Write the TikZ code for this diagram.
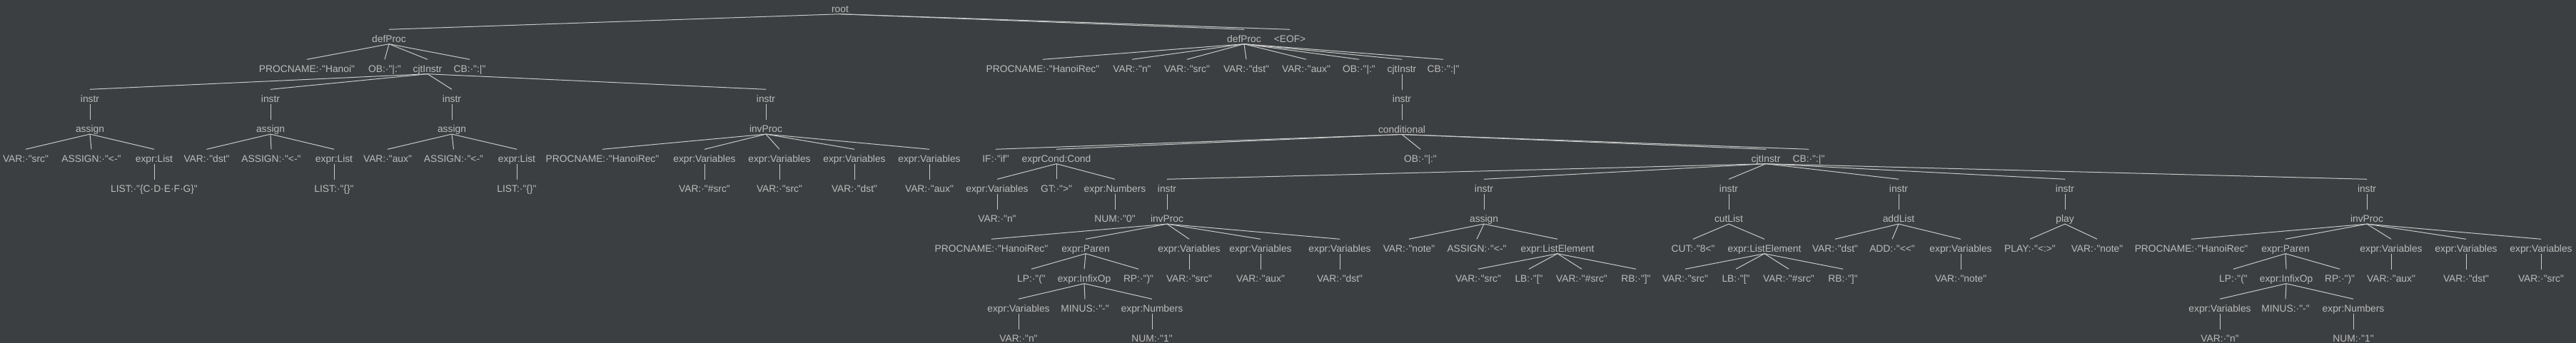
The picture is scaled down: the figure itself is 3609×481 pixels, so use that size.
\documentclass[tikz,border=0pt]{standalone}
\usepackage{fontspec}
\newfontfamily\treefont{Liberation Sans}
\usetikzlibrary{positioning}
\definecolor{bgcol}{HTML}{3C3F41}
\definecolor{txtcol}{HTML}{BBBBBB}
\definecolor{linkcol}{HTML}{C8C8C8}
\tikzset{
  tok/.style={text=txtcol,inner sep=0pt,text height=18pt,text depth=2pt,
    font={\treefont\fontsize{13.8pt}{16pt}\selectfont}},
  link/.style={draw=linkcol,line width=1pt}
}

\begin{document}
\begin{tikzpicture}[x=1pt,y=-1pt,node distance=22pt]
		\fill[bgcol] (0,0) rectangle (3609,481);
		\useasboundingbox (0,0) rectangle (3609,481);

		\node[tok] (root) at (1177,9.5) {root};
		\node[tok] (def1) at (545,51.5) {defProc};
		\node[tok] (def2) at (1743,51.5) {defProc};
		\node[tok] (eof) at (1807,51.5) {<EOF>};

		% first defProc
		\node[tok] (pn1) at (430,93.5) {PROCNAME:·"Hanoi"};
		\node[tok] (ob1) at (539,93.5) {OB:·"|:"};
		\node[tok] (cj1) at (599,93.5) {cjtInstr};
		\node[tok] (cb1) at (658,93.5) {CB:·":|"};

		\node[tok] (in1) at (126,135.5) {instr};
		\node[tok] (in2) at (379,135.5) {instr};
		\node[tok] (in3) at (633,135.5) {instr};
		\node[tok] (in4) at (1073,135.5) {instr};
		\node[tok,below=of in1] (as1) {assign};
		\node[tok,below=of in2] (as2) {assign};
		\node[tok,below=of in3] (as3) {assign};
		\node[tok,below=of in4] (inv1) {invProc};

		\node[tok] (v1) at (36,219.5) {VAR:·"src"};
		\node[tok] (ag1) at (128,219.5) {ASSIGN:·"<-"};
		\node[tok] (el1) at (216,219.5) {expr:List};
		\node[tok,below=of el1] (ls1) {LIST:·"\{C·D·E·F·G\}"};

		\node[tok] (v2) at (289.5,219.5) {VAR:·"dst"};
		\node[tok] (ag2) at (380,219.5) {ASSIGN:·"<-"};
		\node[tok] (el2) at (468,219.5) {expr:List};
		\node[tok,below=of el2] (ls2) {LIST:·"\{\}"};

		\node[tok] (v3) at (543,219.5) {VAR:·"aux"};
		\node[tok] (ag3) at (635.5,219.5) {ASSIGN:·"<-"};
		\node[tok] (el3) at (724,219.5) {expr:List};
		\node[tok,below=of el3] (ls3) {LIST:·"\{\}"};

		\node[tok] (pn3) at (844,219.5) {PROCNAME:·"HanoiRec"};
		\node[tok] (ev1) at (987,219.5) {expr:Variables};
		\node[tok] (ev2) at (1092,219.5) {expr:Variables};
		\node[tok] (ev3) at (1197,219.5) {expr:Variables};
		\node[tok] (ev4) at (1302,219.5) {expr:Variables};
		\node[tok,below=of ev1] (vv1) {VAR:·"\#src"};
		\node[tok,below=of ev2] (vv2) {VAR:·"src"};
		\node[tok,below=of ev3] (vv3) {VAR:·"dst"};
		\node[tok,below=of ev4] (vv4) {VAR:·"aux"};

		% second defProc
		\node[tok] (pn2) at (1461,93.5) {PROCNAME:·"HanoiRec"};
		\node[tok] (n2) at (1586,93.5) {VAR:·"n"};
		\node[tok] (src2) at (1663,93.5) {VAR:·"src"};
		\node[tok] (dst2) at (1746,93.5) {VAR:·"dst"};
		\node[tok] (aux2) at (1830,93.5) {VAR:·"aux"};
		\node[tok] (ob2) at (1904,93.5) {OB:·"|:"};
		\node[tok] (cj2) at (1964,93.5) {cjtInstr};
		\node[tok] (cb2) at (2022,93.5) {CB:·":|"};
		\node[tok,below=of cj2] (in5) {instr};
		\node[tok,below=of in5] (cond) {conditional};

		\node[tok] (iff) at (1395,219.5) {IF:·"if"};
		\node[tok] (cc) at (1480,219.5) {exprCond:Cond};
		\node[tok] (ob3) at (1990,219.5) {OB:·"|:"};
		\node[tok] (cj3) at (2474,219.5) {cjtInstr};
		\node[tok] (cb3) at (2534,219.5) {CB:·":|"};

		\node[tok] (cv) at (1397,261.5) {expr:Variables};
		\node[tok] (gt) at (1480,261.5) {GT:·">"};
		\node[tok] (cn) at (1562,261.5) {expr:Numbers};
		\node[tok,below=of cv] (cvn) {VAR:·"n"};
		\node[tok,below=of cn] (cn0) {NUM:·"0"};

		\node[tok] (in6) at (1635,261.5) {instr};
		\node[tok] (in7) at (2079,261.5) {instr};
		\node[tok] (in8) at (2422,261.5) {instr};
		\node[tok] (in9) at (2660,261.5) {instr};
		\node[tok] (in10) at (2893,261.5) {instr};
		\node[tok] (in11) at (3316,261.5) {instr};
		\node[tok,below=of in6] (inv2) {invProc};
		\node[tok,below=of in7] (as4) {assign};
		\node[tok,below=of in8] (cut) {cutList};
		\node[tok,below=of in9] (add) {addList};
		\node[tok,below=of in10] (play) {play};
		\node[tok,below=of in11] (inv3) {invProc};

		% invProc inside conditional
		\node[tok] (pn4) at (1389,345.5) {PROCNAME:·"HanoiRec"};
		\node[tok] (par1) at (1521,345.5) {expr:Paren};
		\node[tok] (ev5) at (1666,345.5) {expr:Variables};
		\node[tok] (ev6) at (1766,345.5) {expr:Variables};
		\node[tok] (ev7) at (1877,345.5) {expr:Variables};
		\node[tok] (lp1) at (1445,387.5) {LP:·"("};
		\node[tok] (io1) at (1519,387.5) {expr:InfixOp};
		\node[tok] (rp1) at (1595,387.5) {RP:·")"};
		\node[tok,below=of ev5] (vv5) {VAR:·"src"};
		\node[tok,below=of ev6] (vv6) {VAR:·"aux"};
		\node[tok,below=of ev7] (vv7) {VAR:·"dst"};
		\node[tok] (ev12) at (1427,429.5) {expr:Variables};
		\node[tok] (mi1) at (1520,429.5) {MINUS:·"-"};
		\node[tok] (en1) at (1614,429.5) {expr:Numbers};
		\node[tok,below=of ev12] (vn1) {VAR:·"n"};
		\node[tok,below=of en1] (nm1) {NUM:·"1"};

		% assign
		\node[tok] (v4) at (1974,345.5) {VAR:·"note"};
		\node[tok] (ag4) at (2069,345.5) {ASSIGN:·"<-"};
		\node[tok] (le1) at (2182,345.5) {expr:ListElement};
		\node[tok] (v7) at (2071,387.5) {VAR:·"src"};
		\node[tok] (lb1) at (2142,387.5) {LB:·"["};
		\node[tok] (v8) at (2216,387.5) {VAR:·"\#src"};
		\node[tok] (rb1) at (2292,387.5) {RB:·"]"};

		% cutList
		\node[tok] (ct) at (2372,345.5) {CUT:·"8<"};
		\node[tok] (le2) at (2472,345.5) {expr:ListElement};
		\node[tok] (v9) at (2361,387.5) {VAR:·"src"};
		\node[tok] (lb2) at (2432,387.5) {LB:·"["};
		\node[tok] (v10) at (2506,387.5) {VAR:·"\#src"};
		\node[tok] (rb2) at (2582,387.5) {RB:·"]"};

		% addList, play
		\node[tok] (v5) at (2571,345.5) {VAR:·"dst"};
		\node[tok] (ad) at (2651,345.5) {ADD:·"<<"};
		\node[tok] (ev8) at (2747,345.5) {expr:Variables};
		\node[tok,below=of ev8] (vv8) {VAR:·"note"};
		\node[tok] (pl) at (2844,345.5) {PLAY:·"<:>"};
		\node[tok] (v6) at (2938,345.5) {VAR:·"note"};

		% last invProc
		\node[tok] (pn5) at (3070,345.5) {PROCNAME:·"HanoiRec"};
		\node[tok] (par2) at (3202,345.5) {expr:Paren};
		\node[tok] (ev9) at (3350,345.5) {expr:Variables};
		\node[tok] (ev10) at (3455,345.5) {expr:Variables};
		\node[tok] (ev11) at (3560,345.5) {expr:Variables};
		\node[tok] (lp2) at (3129,387.5) {LP:·"("};
		\node[tok] (io2) at (3203,387.5) {expr:InfixOp};
		\node[tok] (rp2) at (3278,387.5) {RP:·")"};
		\node[tok,below=of ev9] (vv9) {VAR:·"aux"};
		\node[tok,below=of ev10] (vv10) {VAR:·"dst"};
		\node[tok,below=of ev11] (vv11) {VAR:·"src"};
		\node[tok] (ev13) at (3110,429.5) {expr:Variables};
		\node[tok] (mi2) at (3202,429.5) {MINUS:·"-"};
		\node[tok] (en2) at (3297,429.5) {expr:Numbers};
		\node[tok,below=of ev13] (vn2) {VAR:·"n"};
		\node[tok,below=of en2] (nm2) {NUM:·"1"};

		% edges
		\foreach \c in {def1,def2,eof} \draw[link] (root.south) -- (\c.north);
		\foreach \c in {pn1,ob1,cj1,cb1} \draw[link] (def1.south) -- (\c.north);
		\foreach \c in {in1,in2,in3,in4} \draw[link] (cj1.south) -- (\c.north);
		\foreach \c in {v1,ag1,el1} \draw[link] (as1.south) -- (\c.north);
		\foreach \c in {v2,ag2,el2} \draw[link] (as2.south) -- (\c.north);
		\foreach \c in {v3,ag3,el3} \draw[link] (as3.south) -- (\c.north);
		\foreach \c in {pn3,ev1,ev2,ev3,ev4} \draw[link] (inv1.south) -- (\c.north);
		\foreach \c in {pn2,n2,src2,dst2,aux2,ob2,cj2,cb2} \draw[link] (def2.south) -- (\c.north);
		\foreach \c in {iff,cc,ob3,cj3,cb3} \draw[link] (cond.south) -- (\c.north);
		\foreach \c in {cv,gt,cn} \draw[link] (cc.south) -- (\c.north);
		\foreach \c in {in6,in7,in8,in9,in10,in11} \draw[link] (cj3.south) -- (\c.north);
		\foreach \c in {pn4,par1,ev5,ev6,ev7} \draw[link] (inv2.south) -- (\c.north);
		\foreach \c in {lp1,io1,rp1} \draw[link] (par1.south) -- (\c.north);
		\foreach \c in {ev12,mi1,en1} \draw[link] (io1.south) -- (\c.north);
		\foreach \c in {v4,ag4,le1} \draw[link] (as4.south) -- (\c.north);
		\foreach \c in {v7,lb1,v8,rb1} \draw[link] (le1.south) -- (\c.north);
		\foreach \c in {ct,le2} \draw[link] (cut.south) -- (\c.north);
		\foreach \c in {v9,lb2,v10,rb2} \draw[link] (le2.south) -- (\c.north);
		\foreach \c in {v5,ad,ev8} \draw[link] (add.south) -- (\c.north);
		\foreach \c in {pl,v6} \draw[link] (play.south) -- (\c.north);
		\foreach \c in {pn5,par2,ev9,ev10,ev11} \draw[link] (inv3.south) -- (\c.north);
		\foreach \c in {lp2,io2,rp2} \draw[link] (par2.south) -- (\c.north);
		\foreach \c in {ev13,mi2,en2} \draw[link] (io2.south) -- (\c.north);

		\foreach \p/\c in {in1/as1,in2/as2,in3/as3,in4/inv1,el1/ls1,el2/ls2,el3/ls3,
		  ev1/vv1,ev2/vv2,ev3/vv3,ev4/vv4,cj2/in5,in5/cond,cv/cvn,cn/cn0,
		  in6/inv2,in7/as4,in8/cut,in9/add,in10/play,in11/inv3,
		  ev5/vv5,ev6/vv6,ev7/vv7,ev12/vn1,en1/nm1,ev8/vv8,
		  ev9/vv9,ev10/vv10,ev11/vv11,ev13/vn2,en2/nm2}
		  \draw[link] (\p.south) -- (\c.north);
\end{tikzpicture}
\end{document}
